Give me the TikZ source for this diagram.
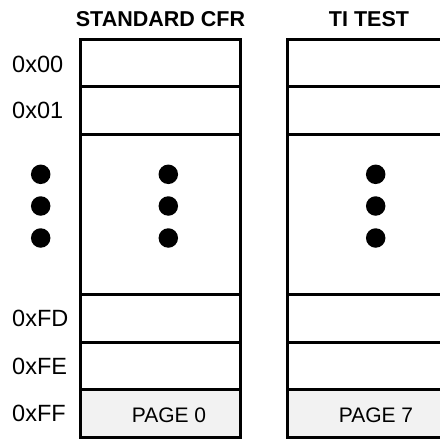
\documentclass[tikz,border=0pt]{standalone}
\usepackage{fontspec}
\setmainfont{Liberation Sans}
\begin{document}
\begin{tikzpicture}[x=1pt,y=-1pt,
  cellline/.style={draw, line width=3pt},
  lbl/.style={font=\fontsize{23.5}{26}\selectfont, anchor=west, inner sep=0pt},
  ttl/.style={font=\fontsize{21.5}{24}\bfseries\selectfont, inner sep=0pt},
  pg/.style={font=\fontsize{21}{24}\selectfont, inner sep=0pt},
  dot/.style={circle, fill=black, minimum size=19.5pt, inner sep=0pt}]
\useasboundingbox (0,0) rectangle (440,440);
\clip (0,0) rectangle (440,440);
% titles
\node[ttl] (t1) at (160.5,19.5) {STANDARD CFR};
\node[ttl] (t2) at (369,19.5) {TI TEST};
% columns
\foreach \ya/\yb/\f in {39.7/86.7/white, 86.7/134.3/white, 134.3/294.2/white, 294.2/342.3/white, 342.3/389.7/white, 389.7/437.7/black!5}{
  \draw[cellline, fill=\f] (80.5,\ya) rectangle (240.3,\yb);
  \draw[cellline, fill=\f] (287.7,\ya) rectangle (447.5,\yb);
}
\node[pg] (p0) at (169,415) {PAGE 0};
\node[pg] (p7) at (376,415) {PAGE 7};
% labels
\node[lbl] (l0) at (12,64.5) {0x00};
\node[lbl] (l1) at (12,110.5) {0x01};
\node[lbl] (l2) at (12,318.5) {0xFD};
\node[lbl] (l3) at (12,366) {0xFE};
\node[lbl] (l4) at (12,413.5) {0xFF};
% dots
\foreach \x/\c in {40.7/a,168.3/b,375.7/c}{
  \node[dot] (d\c1) at (\x,174.3) {};
  \node[dot] (d\c2) at (\x,206) {};
  \node[dot] (d\c3) at (\x,238) {};
}
\end{tikzpicture}
\end{document}
